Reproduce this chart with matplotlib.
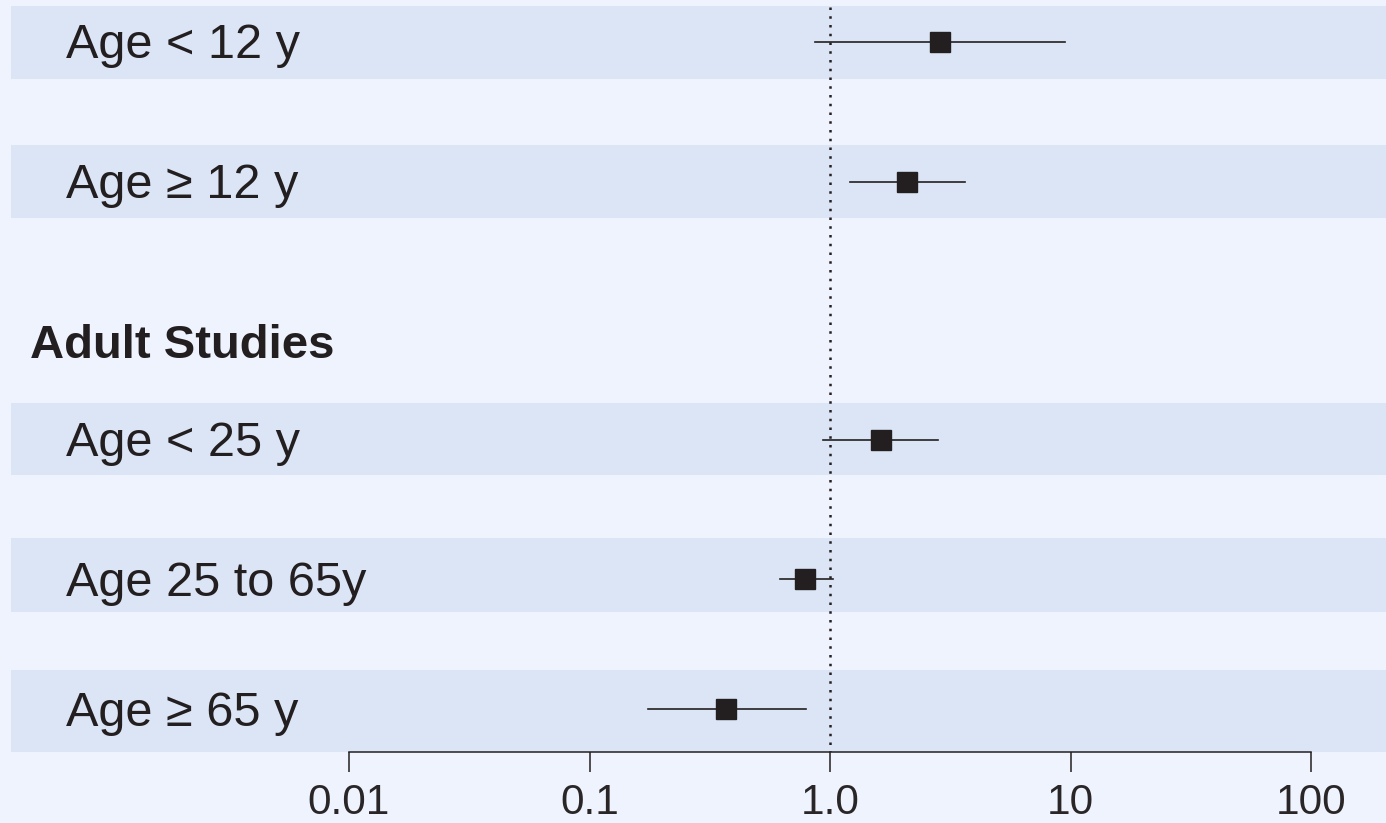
"""
Forest plot: odds ratios by age group, pediatric and adult studies.
"""
import numpy as np
import matplotlib
matplotlib.use("Agg")
import matplotlib.pyplot as plt

# data
labels = ["Age < 12 y", "Age \u2265 12 y", "Age < 25 y", "Age 25 to 65y", "Age \u2265 65 y"]
estimate = [2.87, 2.09, 1.63, 0.79, 0.37]
ci_low = [0.87, 1.21, 0.935, 0.62, 0.175]
ci_high = [9.5, 3.64, 2.81, 1.03, 0.795]
header = "Adult Studies"
tick_values = [0.01, 0.1, 1.0, 10, 100]
tick_labels = ["0.01", "0.1", "1.0", "10", "100"]

# layout (pixel rows, top = 0)
row_y = [42, 182, 440, 579, 709]
band_top = [6, 145, 403, 538, 670]
band_bottom = [79, 218, 475, 612, 752]
header_y = 342

BG = "#EEF3FD"
BAND = "#DCE5F6"
INK = "#231F20"
FONT = "Liberation Sans"

W, H = 1386, 823
AXIS_Y = 752
fig = plt.figure(figsize=(W / 100, H / 100), dpi=100, facecolor=BG)
ax = fig.add_axes([0, 1 - AXIS_Y / H, 1, AXIS_Y / H])
ax.set_facecolor(BG)

# log x, 240.5 px per decade, 1.0 at x=830
px_per_dec = 240.5
ax.set_xscale("log")
ax.set_xlim(10 ** (-830 / px_per_dec), 10 ** ((W - 830) / px_per_dec))
ax.set_ylim(AXIS_Y, 0)

for top, bot in zip(band_top, band_bottom):
    ax.axhspan(top, bot, xmin=11 / W, xmax=1, color=BAND, lw=0, zorder=0)

ax.plot([1.0, 1.0], [7, AXIS_Y], color=INK, lw=1.8, ls=(0, (1, 2.5)), zorder=2)

for y, est, lo, hi, lab in zip(row_y, estimate, ci_low, ci_high, labels):
    ax.plot([lo, hi], [y, y], color=INK, lw=1.2, zorder=3)
    ax.plot(est, y, marker="s", ms=15, color=INK, mec=INK, zorder=4)
    # baseline sits ~16 px below the row centre so caps are centred
    ax.text(66 / W, y + 16.5, lab, transform=ax.get_yaxis_transform(), ha="left", va="baseline",
            fontsize=35, color=INK, family=FONT)

ax.text(30 / W, header_y + 16.5, header, transform=ax.get_yaxis_transform(), ha="left",
        va="baseline", fontsize=34, fontweight="bold", color=INK, family=FONT)

for side in ["top", "left", "right"]:
    ax.spines[side].set_visible(False)
ax.spines["bottom"].set_bounds(tick_values[0], tick_values[-1])
ax.spines["bottom"].set_color(INK)
ax.spines["bottom"].set_linewidth(1.1)
ax.set_yticks([])
ax.set_xticks(tick_values)
ax.set_xticklabels(tick_labels, fontsize=30.5, color="#2a2627", family=FONT)
ax.xaxis.set_minor_locator(matplotlib.ticker.NullLocator())
ax.tick_params(axis="x", length=14.4, width=1.1, color=INK, pad=8)

fig.savefig("out.png", dpi=100, facecolor=BG)
